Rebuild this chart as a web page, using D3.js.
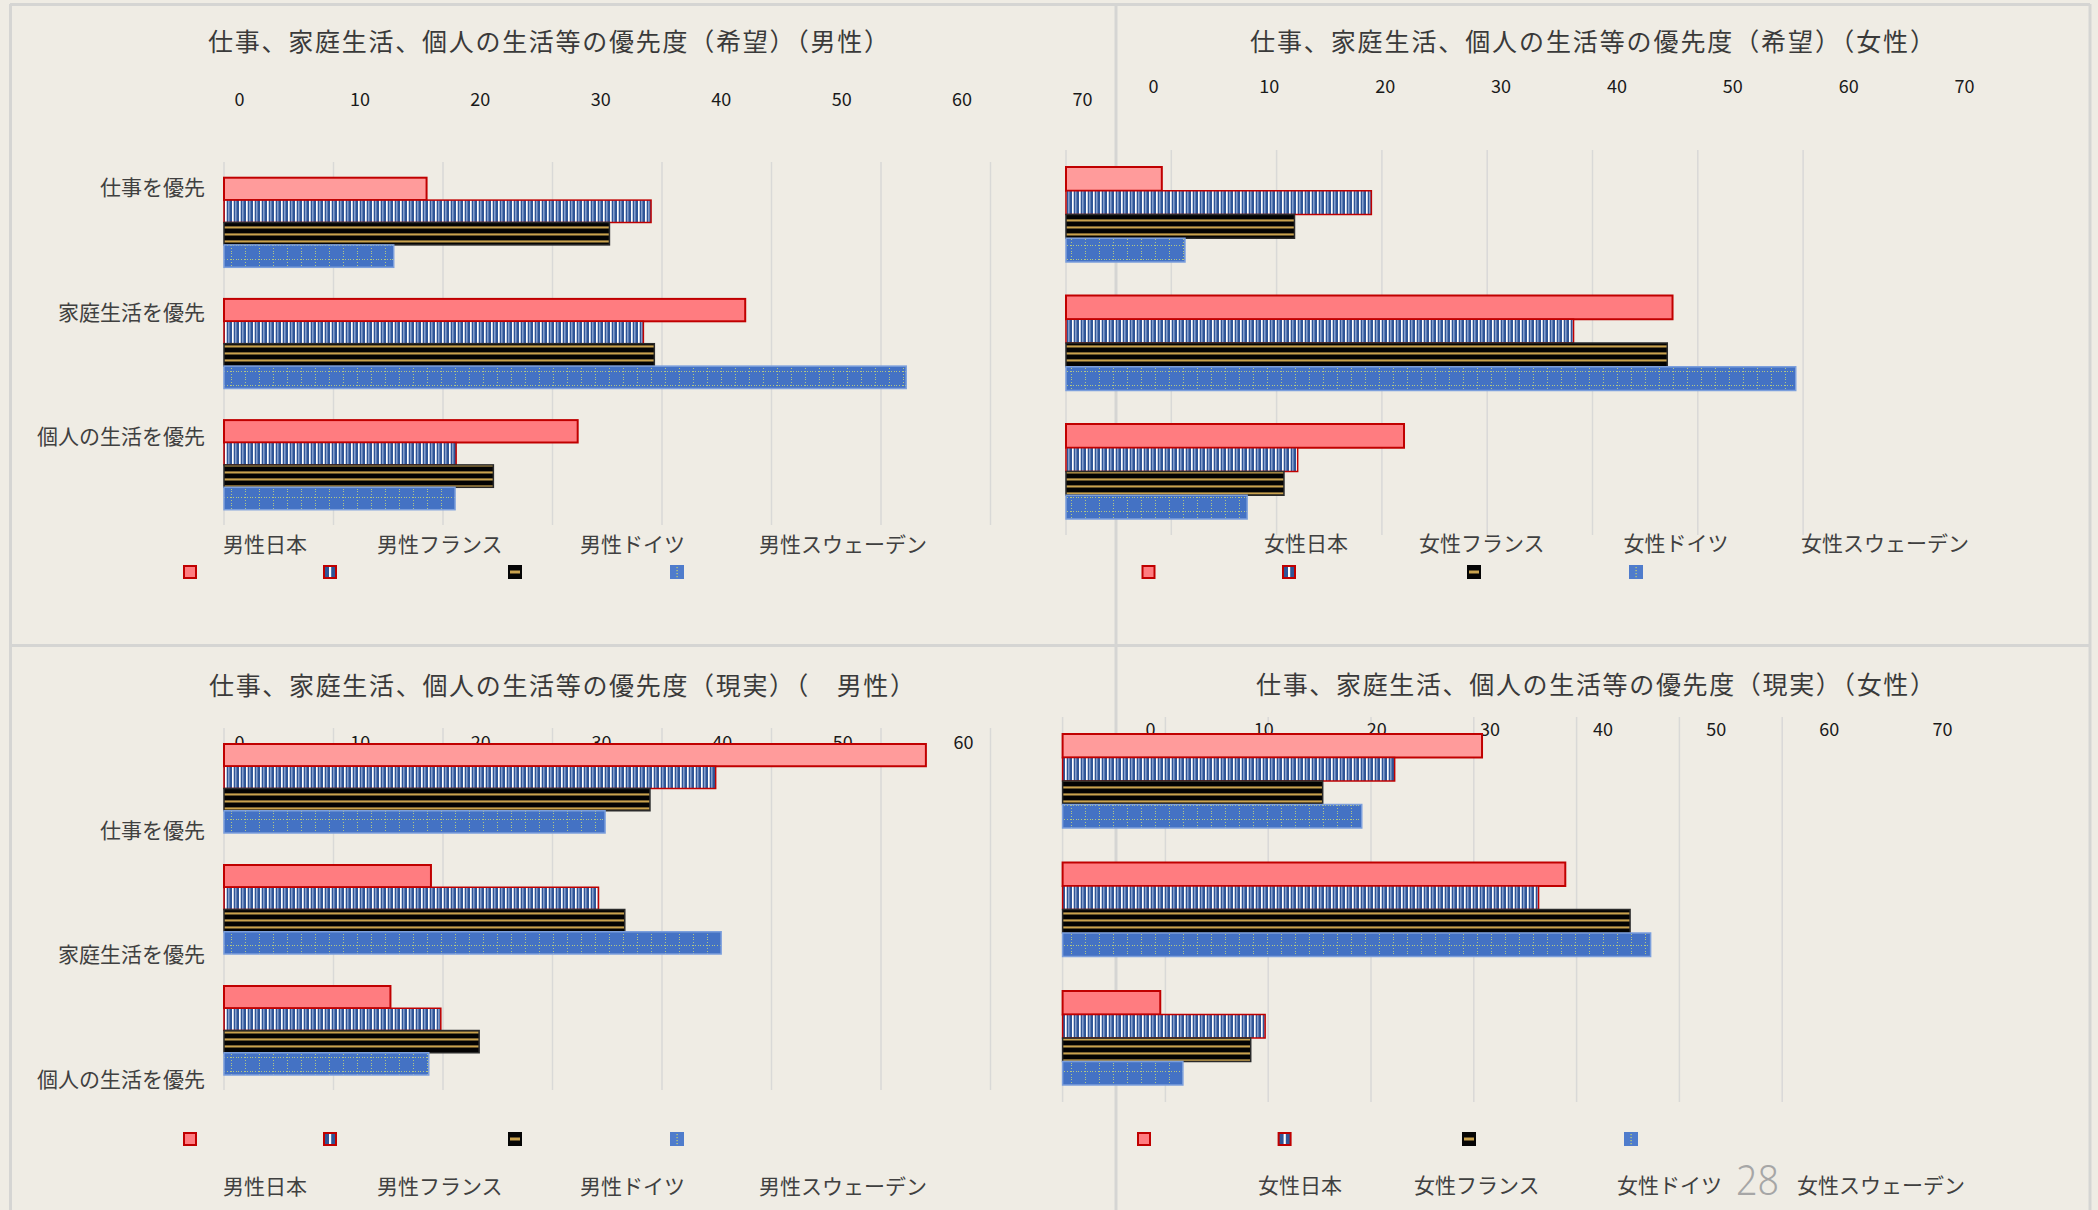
<!DOCTYPE html>
<html><head><meta charset="utf-8">
<script src="https://cdn.jsdelivr.net/npm/d3@7"></script>
<style>html,body{margin:0;padding:0;background:#efece4;} svg{display:block;}</style>
</head><body><svg id="c" width="2098" height="1210"></svg>
<script>
// ---- data ----
const categories = ["仕事を優先","家庭生活を優先","個人の生活を優先"];
const countries = ["日本","フランス","ドイツ","スウェーデン"];
const ticksMain = [0,10,20,30,40,50,60,70];
const ticksBL = [0,10,20,30,40,50,60];
// rows: 日本, フランス, ドイツ, スウェーデン ; columns follow categories
const wishMale   = [[18.5,47.6,32.3],[39.0,38.3,21.2],[35.2,39.3,24.6],[15.5,62.3,21.1]];
const wishFemale = [[9.1,57.6,32.1],[29.0,48.2,22.0],[21.7,57.1,20.7],[11.3,69.3,17.2]];
const realMale   = [[64.1,18.9,15.2],[44.9,34.2,19.8],[38.9,36.6,23.3],[34.8,45.4,18.7]];
const realFemale = [[40.8,48.9,9.5],[32.3,46.3,19.7],[25.3,55.2,18.3],[29.1,57.2,11.7]];
const pageNumber = "28";

// ---- styles / layout ----
const FONT = "'Noto Sans CJK JP','Noto Sans',sans-serif";
const japanFills = ["#ff9b9b","#ff7c80","#ff7c80"];
const panels = [
 {title:"仕事、家庭生活、個人の生活等の優先度（希望）（男性）", prefix:"男性", data:wishMale, ticks:ticksMain,
  titleX:208, titleY:42, titleLen:681, tickRange:[239,1082], tickY:100,
  barX0:224, unit:10.95, gridY:[162,525], groupTop:177.7, step:121.2, groupH:89.6,
  catX:205, catY:[188,313,437], swX:[183,323,508,670], swY:565, lgX:[223,377,580,759], lgY:545},
 {title:"仕事、家庭生活、個人の生活等の優先度（希望）（女性）", prefix:"女性", data:wishFemale, ticks:ticksMain,
  titleX:1250, titleY:42, titleLen:685, tickRange:[1153,1964], tickY:87,
  barX0:1066, unit:10.53, gridY:[150,535], groupTop:167, step:128.5, groupH:95,
  catY:null, swX:[1141.5,1282,1467,1629], swY:565, lgX:[1264,1419,1623.5,1801], lgY:544},
 {title:"仕事、家庭生活、個人の生活等の優先度（現実）（　男性）", prefix:"男性", data:realMale, ticks:ticksBL,
  titleX:209, titleY:686, titleLen:706, tickRange:[239,963], tickY:743,
  barX0:224, unit:10.95, gridY:[728,1090], groupTop:744, step:121, groupH:89,
  catX:205, catY:[831,955,1080], swX:[183,323,508,670], swY:1132, lgX:[223,377,580,759], lgY:1187},
 {title:"仕事、家庭生活、個人の生活等の優先度（現実）（女性）", prefix:"女性", data:realFemale, ticks:ticksMain,
  titleX:1256, titleY:685, titleLen:679, tickRange:[1150,1942], tickY:730,
  barX0:1062.6, unit:10.28, gridY:[717,1102], groupTop:734, step:128.5, groupH:94,
  catY:null, swX:[1137,1277.6,1462,1624], swY:1132, lgX:[1258,1414,1617,1797], lgY:1186}
];

const svg = d3.select("#c");
svg.append("rect").attr("width",2098).attr("height",1210).attr("fill","#efece4");

// ---- patterns ----
const defs = svg.append("defs");
const fr = defs.append("pattern").attr("id","frP").attr("width",7).attr("height",10).attr("patternUnits","userSpaceOnUse");
fr.append("rect").attr("width",7).attr("height",10).attr("fill","#2f5597");
fr.append("rect").attr("x",1).attr("width",1.7).attr("height",10).attr("fill","#ffffff");
fr.append("rect").attr("x",4.3).attr("width",1.1).attr("height",10).attr("fill","#a9bde3");
const de = defs.append("pattern").attr("id","deP").attr("width",10).attr("height",7).attr("patternUnits","userSpaceOnUse");
de.append("rect").attr("width",10).attr("height",7).attr("fill","#030303");
de.append("rect").attr("y",2.4).attr("width",10).attr("height",2.1).attr("fill","#c9a24e");
const se = defs.append("pattern").attr("id","seP").attr("width",14).attr("height",14).attr("patternUnits","userSpaceOnUse");
se.append("rect").attr("width",14).attr("height",14).attr("fill","#4472c4");
d3.range(0,14,3).forEach(v=>{
  se.append("rect").attr("x",v).attr("y",7).attr("width",1).attr("height",1).attr("fill","#e3ea6a").attr("opacity",0.7);
});
d3.range(1,14,3).forEach(v=>{
  se.append("rect").attr("x",7).attr("y",v).attr("width",1).attr("height",1).attr("fill","#e3ea6a").attr("opacity",0.7);
});

const seriesStyle = [
  {fill:(ci)=>japanFills[ci], stroke:"#c00000", sw:2},
  {fill:()=>"url(#frP)", stroke:"#c00000", sw:1.5},
  {fill:()=>"url(#deP)", stroke:"#2a2a2a", sw:1.5},
  {fill:()=>"url(#seP)", stroke:"#7c9fdc", sw:1.5}
];

// ---- borders ----
const bd = svg.append("g").attr("stroke","#d5d5d3").attr("stroke-width",3);
bd.append("line").attr("x1",10).attr("x2",2090).attr("y1",4.5).attr("y2",4.5);
bd.append("line").attr("x1",10.5).attr("x2",10.5).attr("y1",4).attr("y2",1210);
bd.append("line").attr("x1",2090).attr("x2",2090).attr("y1",4).attr("y2",1210);
bd.append("line").attr("x1",1116).attr("x2",1116).attr("y1",4).attr("y2",1210);
bd.append("line").attr("x1",10).attr("x2",2090).attr("y1",645.5).attr("y2",645.5);

const barLayer = [];
panels.forEach(p=>{
  const x = d3.scaleLinear().domain([0,70]).range([p.barX0, p.barX0 + 70*p.unit]);
  const g = svg.append("g");
  // gridlines
  g.selectAll("line.grid").data(ticksMain).join("line")
    .attr("x1",d=>x(d)).attr("x2",d=>x(d)).attr("y1",p.gridY[0]).attr("y2",p.gridY[1])
    .attr("stroke","#d9d9d7").attr("stroke-width",1.5);
  // tick labels (misplaced axis as in reference)
  const xl = d3.scaleLinear().domain([0,d3.max(p.ticks)]).range(p.tickRange);
  const ax = g.append("g").attr("transform",`translate(0,${p.tickY})`)
    .call(d3.axisTop(xl).tickValues(p.ticks).tickSize(0).tickPadding(0));
  ax.select(".domain").remove();
  ax.attr("font-family",FONT).attr("font-size",18);
  ax.selectAll("text").attr("y",0).attr("dy","0.35em").attr("fill","#1a1a1a");
  // title
  g.append("text").attr("x",p.titleX).attr("y",p.titleY).attr("dy","0.35em")
    .attr("font-family",FONT).attr("font-size",25).attr("fill","#3a3a3a")
    .attr("textLength",p.titleLen).attr("lengthAdjust","spacing").text(p.title);
  // category labels
  if(p.catY){
    g.selectAll("text.cat").data(categories).join("text")
      .attr("x",p.catX).attr("y",(d,i)=>p.catY[i]).attr("dy","0.35em").attr("text-anchor","end")
      .attr("font-family",FONT).attr("font-size",21).attr("fill","#404040").text(d=>d);
  }
  // legend labels
  g.selectAll("text.lg").data(countries).join("text")
    .attr("x",(d,i)=>p.lgX[i]).attr("y",p.lgY).attr("dy","0.35em")
    .attr("font-family",FONT).attr("font-size",21).attr("fill","#404040").text(d=>p.prefix+d);
  // legend swatches
  countries.forEach((c,i)=>{
    const sx=p.swX[i], sy=p.swY, s=14;
    if(i===0){
      g.append("rect").attr("x",sx+1).attr("y",sy+1).attr("width",s-2).attr("height",s-2)
       .attr("fill","#ff7c80").attr("stroke","#c00000").attr("stroke-width",2);
    } else if(i===1){
      g.append("rect").attr("x",sx+1).attr("y",sy+1).attr("width",s-2).attr("height",s-2)
       .attr("fill","#2f5597").attr("stroke","#c00000").attr("stroke-width",2);
      g.append("rect").attr("x",sx+6).attr("y",sy+2).attr("width",2.2).attr("height",s-4).attr("fill","#ffffff");
    } else if(i===2){
      g.append("rect").attr("x",sx).attr("y",sy).attr("width",s).attr("height",s).attr("fill","#050505");
      g.append("rect").attr("x",sx+2).attr("y",sy+5.5).attr("width",s-4).attr("height",3).attr("fill","#c9a24e");
    } else {
      g.append("rect").attr("x",sx).attr("y",sy).attr("width",s).attr("height",s).attr("fill","#4f7ccc");
      d3.range(2,13,3).forEach(v=>g.append("rect").attr("x",sx+6.5).attr("y",sy+v).attr("width",1.2).attr("height",1.2).attr("fill","#c9d46a"));
    }
  });
  barLayer.push({p,x});
});

// bars drawn on top
barLayer.forEach(({p,x})=>{
  const pi = (p.step - p.groupH)/p.step;
  const y0 = d3.scaleBand().domain(categories)
    .range([p.groupTop, p.groupTop + p.step*(categories.length - pi)]).paddingInner(pi).paddingOuter(0);
  const y1 = d3.scaleBand().domain(d3.range(countries.length)).range([0,y0.bandwidth()]);
  const g = svg.append("g");
  p.data.forEach((vals,si)=>{
    const st = seriesStyle[si];
    g.selectAll(null).data(vals).join("rect")
      .attr("x",x(0)).attr("y",(d,ci)=>y0(categories[ci])+y1(si))
      .attr("width",d=>x(d)-x(0)).attr("height",y1.bandwidth())
      .attr("fill",(d,ci)=>st.fill(ci)).attr("stroke",st.stroke).attr("stroke-width",st.sw);
  });
});

// page number
svg.append("text").attr("x",1736).attr("y",1195).attr("font-family","'Noto Sans',sans-serif")
  .attr("font-weight",300).attr("font-size",43).attr("fill","#a6a6a6")
  .attr("textLength",43).attr("lengthAdjust","spacingAndGlyphs").text(pageNumber);
</script></body></html>
